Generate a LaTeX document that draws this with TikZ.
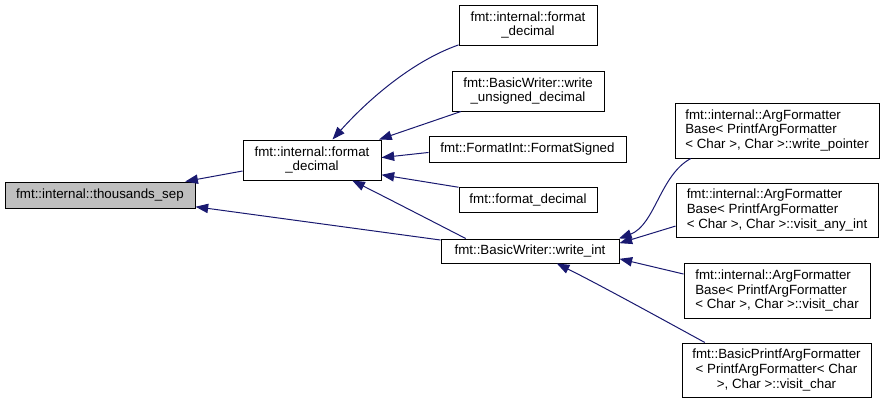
\documentclass[tikz,border=0pt]{standalone}
\usepackage{fontspec}
\setmainfont{Liberation Sans}
\usetikzlibrary{arrows.meta}
\definecolor{edgeblue}{HTML}{191970}
\definecolor{graybg}{HTML}{BFBFBF}
\begin{document}
\begin{tikzpicture}[x=0.75pt,y=-0.75pt,
  box/.style={draw=black, line width=0.75pt, fill=white, inner sep=0pt, align=center,
    font=\fontsize{10}{11}\selectfont},
  sz/.style 2 args={minimum width=#1*0.75pt, minimum height=#2*0.75pt},
  edge/.style={draw=edgeblue, line width=0.75pt, -{Triangle[length=9.5pt,width=7pt]}}]
\useasboundingbox (0,0) rectangle (885,404);
% nodes
\node[box, fill=graybg, sz={190}{26}] (ts) at (100,195) {fmt::internal::thousands\_sep};
\node[box, sz={138}{40}] (fdm) at (312,160) {fmt::internal::format\\\_decimal};
\node[box, sz={138}{40}] (fdt) at (528,25) {fmt::internal::format\\\_decimal};
\node[box, sz={152}{40}] (wud) at (528,91) {fmt::BasicWriter::write\\\_unsigned\_decimal};
\node[box, sz={197}{26}] (fs) at (527.5,149) {fmt::FormatInt::FormatSigned};
\node[box, sz={138}{25}] (fmd) at (528,199.5) {fmt::format\_decimal};
\node[box, sz={178}{24}] (wi) at (530,251) {fmt::BasicWriter::write\_int};
\node[box, align=left, sz={204}{55}] (wp) at (777,130.5) {fmt::internal::ArgFormatter\\Base< PrintfArgFormatter\\< Char >, Char >::write\_pointer};
\node[box, align=left, sz={202}{54}] (vai) at (777,210) {fmt::internal::ArgFormatter\\Base< PrintfArgFormatter\\< Char >, Char >::visit\_any\_int};
\node[box, align=left, sz={186}{55}] (vc) at (777,290.5) {fmt::internal::ArgFormatter\\Base< PrintfArgFormatter\\< Char >, Char >::visit\_char};
\node[box, sz={189}{54}] (bp) at (776.5,370) {fmt::BasicPrintfArgFormatter\\< PrintfArgFormatter< Char\\>, Char >::visit\_char};
% edges
\draw[edge] (fdm.189) -- (ts.9);
\draw[edge] (wi.173.6) -- (ts.-7);
\draw[edge] (fdt.196) .. controls (410,62) and (365,103) .. (fdm.45);
\draw[edge] (wud.197) -- (fdm.17.4);
\draw[edge] (fs.182.3) -- (fdm.2.5);
\draw[edge] (fmd.170.5) -- (fdm.-12.4);
\draw[edge] (wi.169.2) .. controls (420,215) and (385,197) .. (fdm.-27.8);
\draw[edge] (wp.198.5) .. controls (660,175) and (655,225) .. (wi.8.7);
\draw[edge] (vai.189.6) -- (wi.5.8);
\draw[edge] (vc.170.5) -- (wi.-5.1);
\draw[edge] (bp.159.8) .. controls (660,318) and (600,285) .. (wi.-25.6);
\end{tikzpicture}
\end{document}
